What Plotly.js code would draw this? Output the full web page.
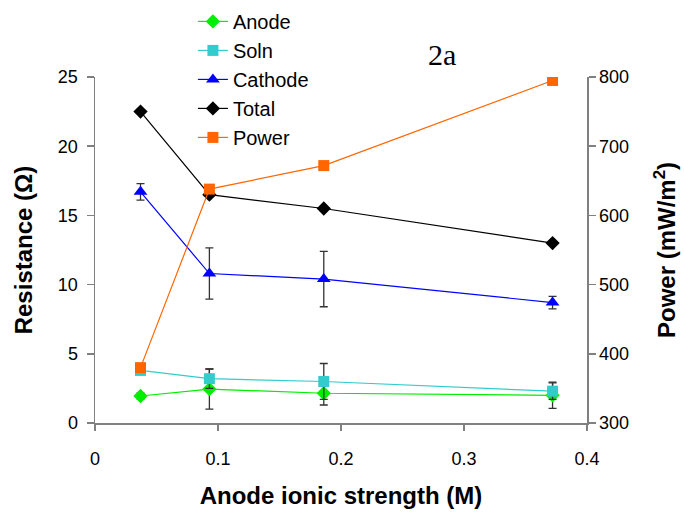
<!DOCTYPE html>
<html><head><meta charset="utf-8">
<script src="https://cdn.plot.ly/plotly-3.0.1.min.js"></script>
<style>body{margin:0;background:#fff}#c{width:684px;height:512px}</style>
</head><body><div id="c"></div>
<script>
const ionicStrength = [0.037, 0.093, 0.186, 0.372];
const anode = [1.95, 2.45, 2.15, 2.0];
const anodeErr = [0.2, 1.45, 0.85, 0.95];
const soln = [3.8, 3.2, 3.0, 2.3];
const solnErr = [0.2, 0.7, 1.3, 0.6];
const cathode = [16.7, 10.8, 10.4, 8.7];
const cathodeErr = [0.6, 1.85, 2.0, 0.45];
const total = [22.5, 16.5, 15.5, 13.0];
const power = [380, 638, 672, 795];
const xTicks = [0, 0.1, 0.2, 0.3, 0.4];
const xTickText = ['0', '0.1', '0.2', '0.3', '0.4'];
const yTicks = [0, 5, 10, 15, 20, 25];
const y2Ticks = [300, 400, 500, 600, 700, 800];

const errStyle = (arr) => ({type:'data', array:arr, visible:true, color:'#333', thickness:1.3, width:4});

const traces = [
  {name:'Anode', x:ionicStrength, y:anode, error_y:errStyle(anodeErr), mode:'lines+markers',
   line:{color:'#00ee00', width:1.2}, marker:{symbol:'diamond', size:11, color:'#00ee00'}},
  {name:'Soln', x:ionicStrength, y:soln, error_y:errStyle(solnErr), mode:'lines+markers',
   line:{color:'#33cccc', width:1.2}, marker:{symbol:'square', size:11, color:'#33cccc'}},
  {name:'Cathode', x:ionicStrength, y:cathode, error_y:errStyle(cathodeErr), mode:'lines+markers',
   line:{color:'#0000ff', width:1.2}, marker:{symbol:'triangle-up', size:12, color:'#0000ff'}},
  {name:'Total', x:ionicStrength, y:total, mode:'lines+markers',
   line:{color:'#000000', width:1.2}, marker:{symbol:'diamond', size:11, color:'#000000'}},
  {name:'Power', x:ionicStrength, y:power, yaxis:'y2', mode:'lines+markers',
   line:{color:'#ff6600', width:1.2}, marker:{symbol:'square', size:11, color:'#ff6600'}}
];

const axFont = {family:'Liberation Sans, Arial, sans-serif', size:18, color:'#000'};
const titleFont = {family:'Liberation Sans, Arial, sans-serif', size:24, color:'#000'};
const layout = {
  width:684, height:512,
  margin:{l:95, r:97, t:77, b:89, autoexpand:false},
  paper_bgcolor:'#fff', plot_bgcolor:'#fff',
  font:{family:'Liberation Sans, Arial, sans-serif', color:'#000'},
  showlegend:true,
  legend:{x:0.199, y:1.217, xanchor:'left', yanchor:'top', font:{size:20, color:'#000'},
          bgcolor:'rgba(0,0,0,0)', tracegroupgap:0, itemwidth:30},
  xaxis:{range:[0,0.4], tickvals:xTicks, ticktext:xTickText,
         showgrid:false, zeroline:false, showline:true, linecolor:'#808080', linewidth:1.5,
         ticks:'outside', ticklen:6, tickcolor:'#808080', tickwidth:1.5, tickfont:axFont,
         ticklabelstandoff:13,
         title:{text:'<b>Anode ionic strength (M)</b>', font:titleFont, standoff:19}},
  yaxis:{range:[0,25], tickvals:yTicks, showgrid:false, zeroline:false,
         showline:true, linecolor:'#808080', linewidth:1.5, ticks:'outside', ticklen:7,
         tickcolor:'#808080', tickwidth:1.5, tickfont:axFont, ticklabelstandoff:5,
         title:{text:'<b>Resistance (Ω)</b>', font:titleFont, standoff:18}},
  yaxis2:{range:[300,800], tickvals:y2Ticks, overlaying:'y', side:'right',
          showgrid:false, zeroline:false, showline:true, linecolor:'#808080', linewidth:1.5,
          ticks:'outside', ticklen:7, tickcolor:'#808080', tickwidth:1.5, tickfont:axFont,
          title:{text:'<b>Power (mW/m<sup>2</sup>)</b>', font:titleFont, standoff:30}},
  annotations:[{text:'2a', showarrow:false, xref:'paper', yref:'paper',
                x:0.706, y:1.065, xanchor:'center', yanchor:'middle',
                font:{family:'Liberation Serif, Times New Roman, serif', size:30, color:'#000'}}]
};
Plotly.newPlot('c', traces, layout, {displayModeBar:false, staticPlot:true});
</script></body></html>
